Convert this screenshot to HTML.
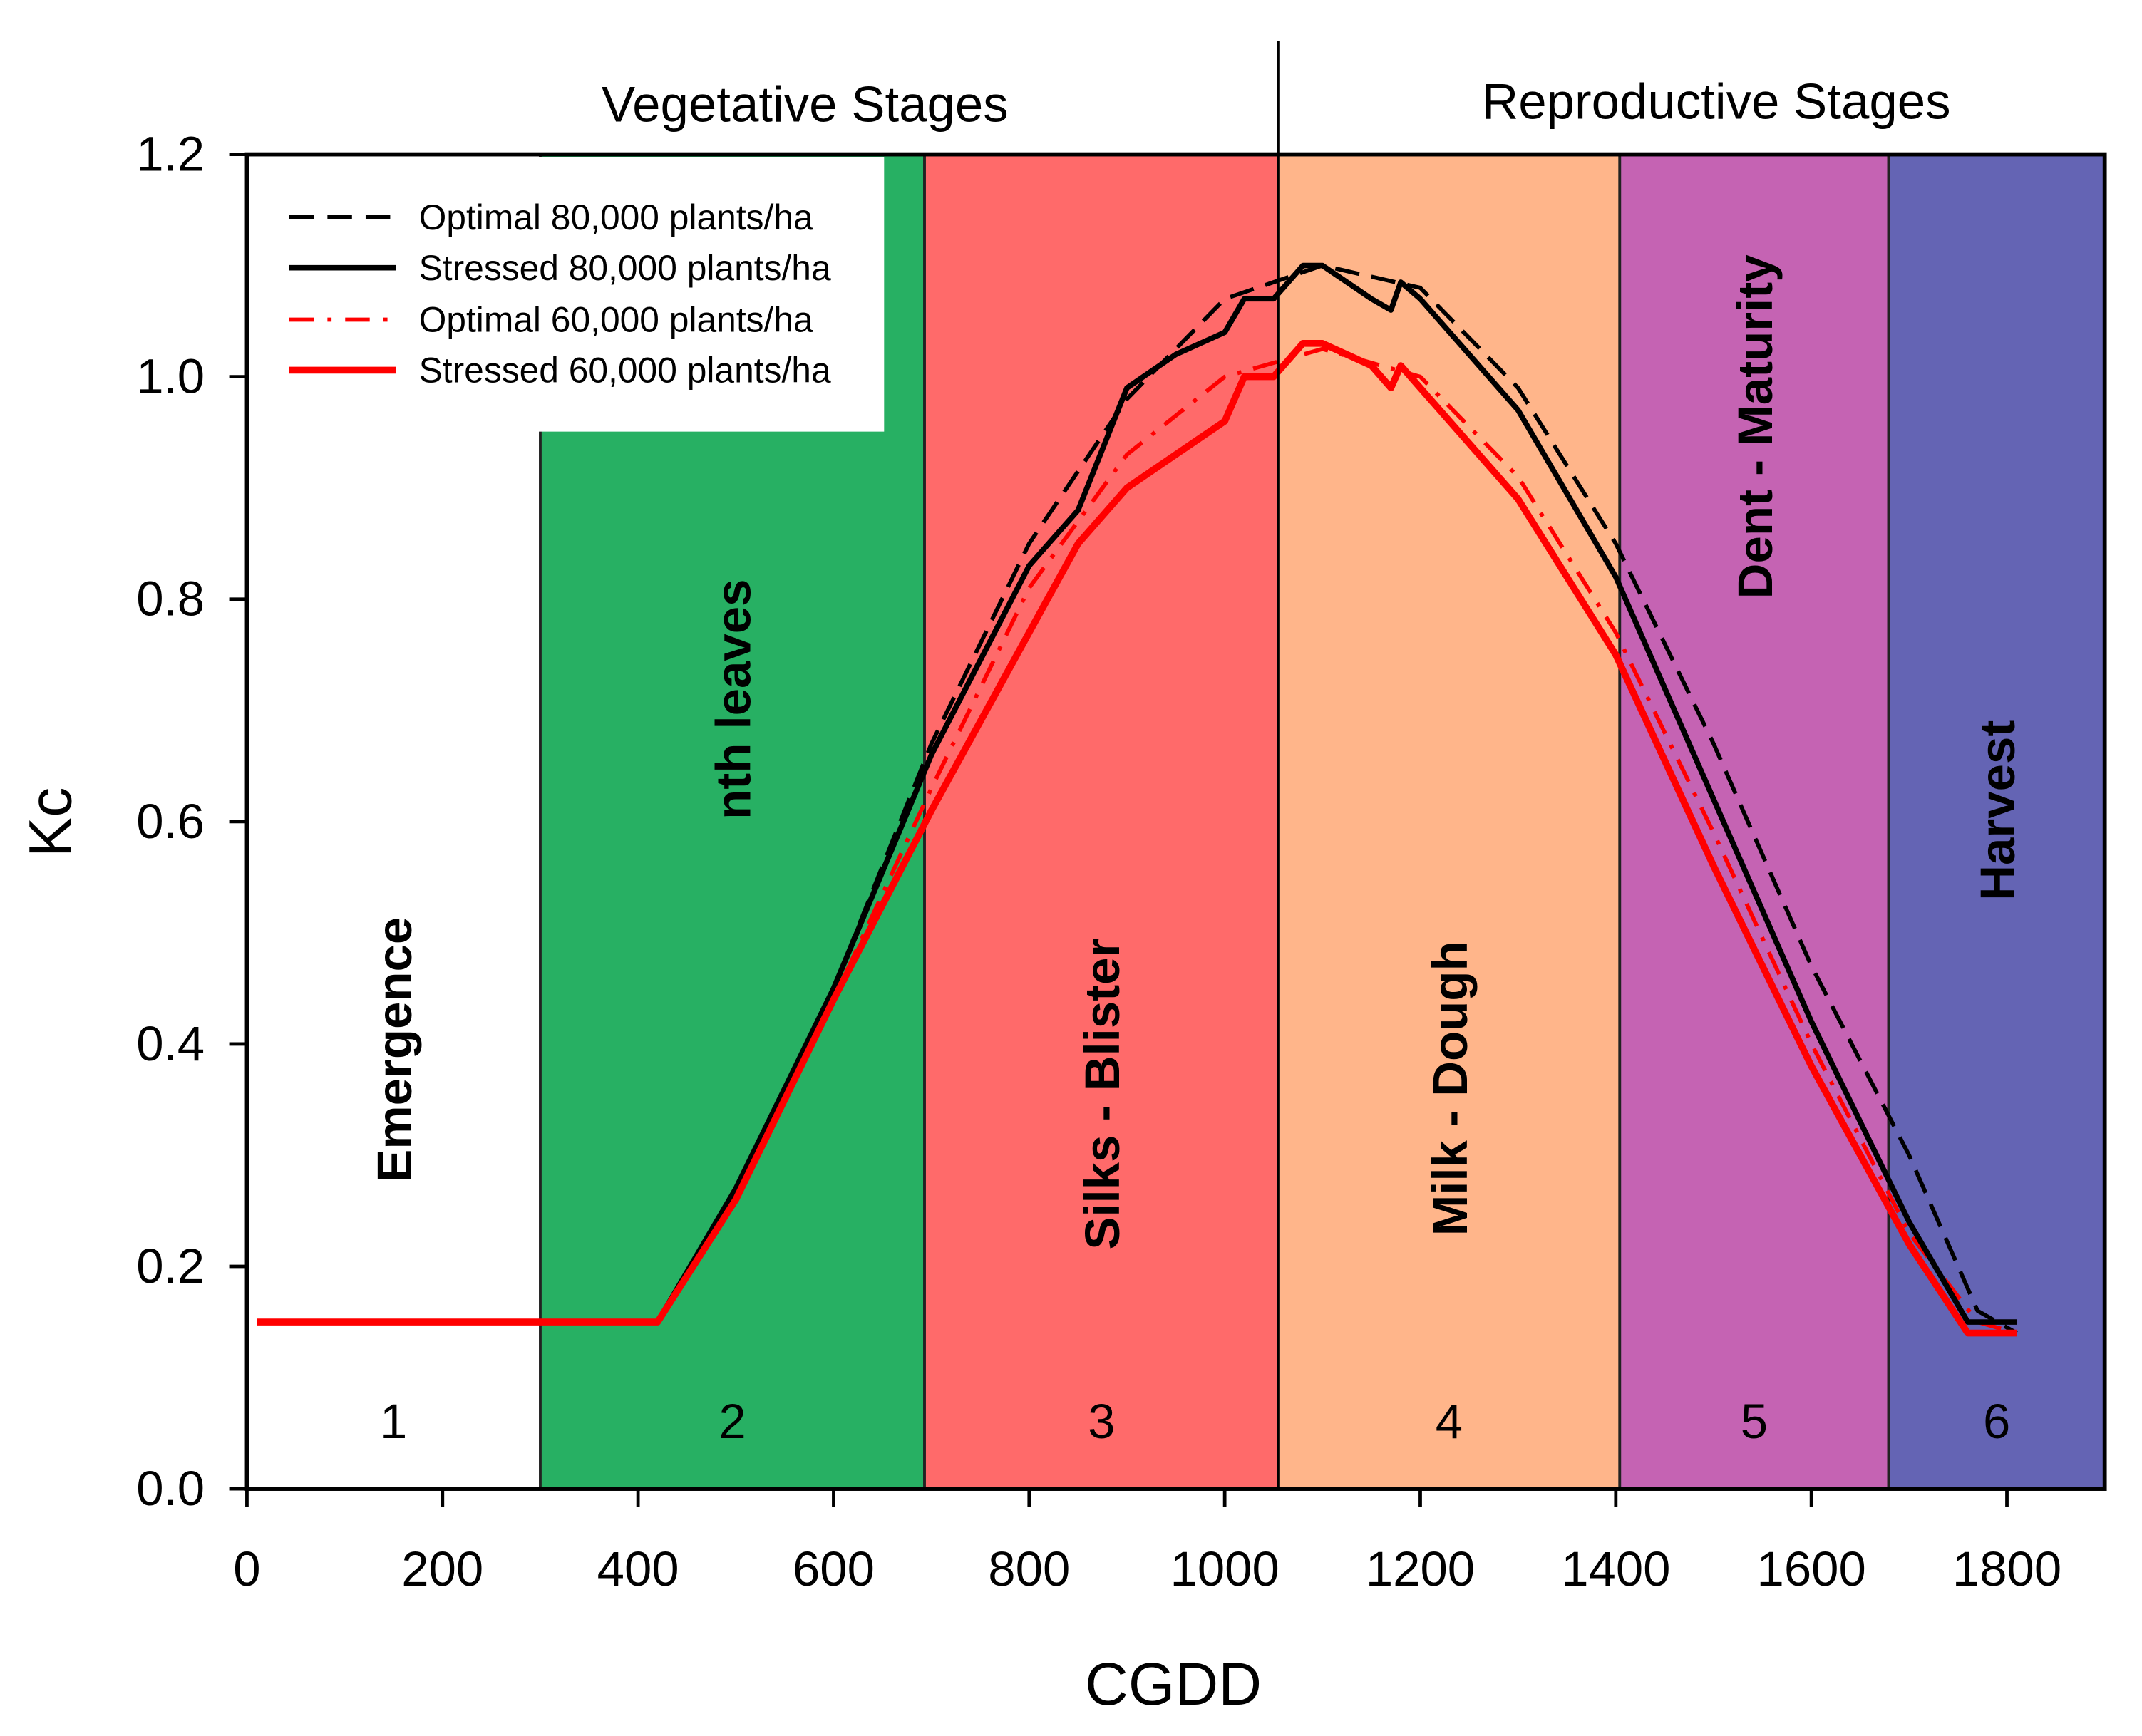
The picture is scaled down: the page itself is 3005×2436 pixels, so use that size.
<!DOCTYPE html>
<html><head><meta charset="utf-8"><style>
html,body{margin:0;padding:0;background:#fff;}
svg{display:block;font-family:"Liberation Sans",Arial,sans-serif;}
</style></head><body>
<svg id="chart" width="3005" height="2436" viewBox="0 0 1570 1271" preserveAspectRatio="none" xmlns="http://www.w3.org/2000/svg">
<g id="bands"></g>
<rect x="183" y="115" width="465" height="201" fill="#fff"/>
<g id="series"></g>
<g id="axes"></g>
<g id="legend">
 <line x1="212" y1="159" x2="290" y2="159" stroke="#000" stroke-width="3" stroke-dasharray="18,10"/>
 <text x="307" y="168" font-size="26">Optimal 80,000 plants/ha</text>
 <line x1="212" y1="196" x2="290" y2="196" stroke="#000" stroke-width="4"/>
 <text x="307" y="205" font-size="26">Stressed 80,000 plants/ha</text>
 <line x1="212" y1="234" x2="290" y2="234" stroke="#f00" stroke-width="3" stroke-dasharray="18,10,3,10"/>
 <text x="307" y="243" font-size="26">Optimal 60,000 plants/ha</text>
 <line x1="212" y1="271" x2="290" y2="271" stroke="#f00" stroke-width="5"/>
 <text x="307" y="280" font-size="26">Stressed 60,000 plants/ha</text>
</g>
<line x1="937" y1="30" x2="937" y2="1090" stroke="#000" stroke-width="2.5"/>
<text x="590" y="89" font-size="37" text-anchor="middle">Vegetative Stages</text>
<text x="1258" y="87" font-size="37" text-anchor="middle">Reproductive Stages</text>
<text transform="translate(52,602) rotate(-90)" font-size="44" text-anchor="middle">Kc</text>
<text x="860" y="1248" font-size="44" text-anchor="middle">CGDD</text>
</svg>
<script>
const bandStarts = [0, 300, 693, 1055, 1404, 1679];
const bandEnds = [300, 693, 1055, 1404, 1679, 1900];
const bandColors = ['#ffffff', '#27b063', '#ff6a6a', '#ffb58a', '#c563b3', '#6464b4'];
const bandLabels = ['Emergence', 'nth leaves', 'Silks - Blister', 'Milk - Dough', 'Dent - Maturity', 'Harvest'];
const bandLabelY = [0.395, 0.71, 0.355, 0.36, 0.955, 0.61];
const bandNums = ['1', '2', '3', '4', '5', '6'];
const xTicks = [0, 200, 400, 600, 800, 1000, 1200, 1400, 1600, 1800];
const yTicks = [0.0, 0.2, 0.4, 0.6, 0.8, 1.0, 1.2];

const cgdd = [10,420,500,600,700,800,850,900,950,1000,1020,1050,1060,1080,1100,1150,1170,1180,1200,1300,1400,1500,1600,1700,1760,1810];
const stressed80 = [0.15,0.15,0.27,0.45,0.66,0.83,0.88,0.99,1.02,1.04,1.07,1.07,1.08,1.10,1.10,1.07,1.06,1.085,1.07,0.97,0.82,0.62,0.42,0.24,0.15,0.15];
const cgddOpt = [10,420,500,600,700,800,900,1000,1100,1200,1300,1400,1500,1600,1700,1770,1810];
const optimal80 = [0.15,0.15,0.27,0.45,0.67,0.85,0.98,1.07,1.10,1.08,0.99,0.85,0.67,0.47,0.30,0.16,0.14];
const stressed60 = [0.15,0.15,0.26,0.44,0.61,0.77,0.85,0.90,0.93,0.96,1.0,1.0,1.01,1.03,1.03,1.01,0.99,1.01,0.99,0.89,0.75,0.56,0.38,0.22,0.14,0.14];
const optimal60 = [0.15,0.15,0.27,0.44,0.63,0.81,0.93,1.0,1.025,1.0,0.91,0.77,0.59,0.40,0.23,0.15,0.14];

const NS = 'http://www.w3.org/2000/svg';
const X0 = 181, XS = (1471 - 181) / 1800, Y0 = 1090, YS = (1090 - 113) / 1.2;
const xs = v => X0 + v * XS;
const ys = v => Y0 - v * YS;
function mk(tag, parent) { const e = document.createElementNS(NS, tag); parent.appendChild(e); return e; }

const bands = document.getElementById('bands');
bandStarts.forEach((s, i) => {
  const r = mk('rect', bands);
  
  
  r.setAttribute('x', xs(s)); r.setAttribute('y', ys(1.2));
  r.setAttribute('width', xs(bandEnds[i]) - xs(s)); r.setAttribute('height', ys(0) - ys(1.2));
  r.setAttribute('fill', bandColors[i]);
  if (i > 0) { r.setAttribute('stroke', '#222'); r.setAttribute('stroke-width', '2'); }
  const cx = (xs(s) + xs(bandEnds[i])) / 2;
  const t = mk('text', bands);
  
  
  t.setAttribute('transform', 'translate(' + (cx + 13) + ',' + ys(bandLabelY[i]) + ') rotate(-90)');
  t.setAttribute('font-size', '36'); t.setAttribute('font-weight', 'bold'); t.setAttribute('text-anchor', 'middle');
  t.textContent = bandLabels[i];
  const n = mk('text', bands);
  
  
  n.setAttribute('x', cx); n.setAttribute('y', 1053); n.setAttribute('font-size', '36'); n.setAttribute('text-anchor', 'middle');
  n.textContent = bandNums[i];
});

const ser = document.getElementById('series');
function line(xa, ya, color, w, dash, name) {
  const p = mk('path', ser);
  
  
  p.setAttribute('d', xa.map((x, i) => (i ? 'L' : 'M') + xs(x).toFixed(1) + ',' + ys(ya[i]).toFixed(1)).join(''));
  p.setAttribute('fill', 'none'); p.setAttribute('stroke', color); p.setAttribute('stroke-width', w);
  p.setAttribute('stroke-linejoin', 'round');
  if (dash) p.setAttribute('stroke-dasharray', dash);
}
line(cgddOpt, optimal80, '#000', 3, '18,9', 'optimal-80k-line');
line(cgddOpt, optimal60, '#f00', 3, '18,9,3,9', 'optimal-60k-line');
line(cgdd, stressed80, '#000', 4, null, 'stressed-80k-line');
line(cgdd, stressed60, '#f00', 5, null, 'stressed-60k-line');

const ax = document.getElementById('axes');
const frame = mk('rect', ax);


frame.setAttribute('x', xs(0)); frame.setAttribute('y', ys(1.2));
frame.setAttribute('width', xs(1900) - xs(0)); frame.setAttribute('height', ys(0) - ys(1.2));
frame.setAttribute('fill', 'none'); frame.setAttribute('stroke', '#000'); frame.setAttribute('stroke-width', '3');
xTicks.forEach(v => {
  const l = mk('line', ax);
  
  
  l.setAttribute('x1', xs(v)); l.setAttribute('x2', xs(v)); l.setAttribute('y1', Y0); l.setAttribute('y2', Y0 + 13);
  l.setAttribute('stroke', '#000'); l.setAttribute('stroke-width', '2.5');
  const t = mk('text', ax);
  
  
  t.setAttribute('x', xs(v)); t.setAttribute('y', 1161); t.setAttribute('font-size', '36'); t.setAttribute('text-anchor', 'middle');
  t.textContent = v;
});
yTicks.forEach(v => {
  const l = mk('line', ax);
  
  
  l.setAttribute('x1', X0 - 13); l.setAttribute('x2', X0); l.setAttribute('y1', ys(v)); l.setAttribute('y2', ys(v));
  l.setAttribute('stroke', '#000'); l.setAttribute('stroke-width', '2.5');
  const t = mk('text', ax);
  
  
  t.setAttribute('x', 150); t.setAttribute('y', ys(v) + 12); t.setAttribute('font-size', '36'); t.setAttribute('text-anchor', 'end');
  t.textContent = v.toFixed(1);
});
</script>
</body></html>
